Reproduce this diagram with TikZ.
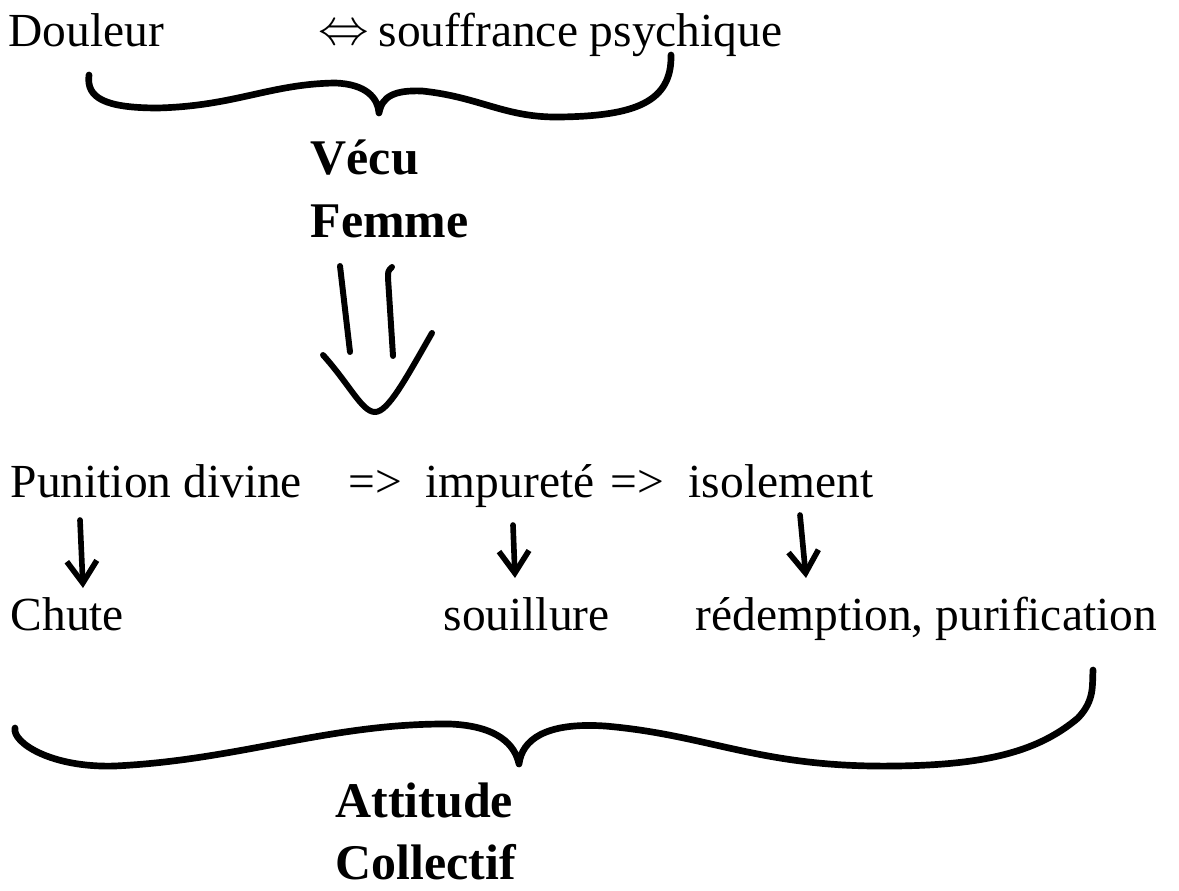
\documentclass[tikz,border=0pt]{standalone}
\usepackage{fontspec}
\setmainfont{Liberation Serif}
\usepackage{tikz}
\usetikzlibrary{positioning, arrows.meta}

\begin{document}
\begin{tikzpicture}[
      txt/.style={anchor=base west, inner sep=0pt, font=\fontsize{13.5}{16}\selectfont},
      lbl/.style={txt, font=\fontsize{14.2}{17}\selectfont\bfseries},
      brc/.style={line width=1.9pt, line cap=round, line join=round},
      arr/.style={line width=1.6pt, line cap=round, -{Straight Barb[length=2.2mm, width=3mm, line width=1.6pt]}}]
    \useasboundingbox (0,0) rectangle (11.79,-8.90);
    % top line
    \node[txt] (douleur) at (0.08,-0.47) {Douleur};
    \node[txt] (equiv) at (3.18,-0.45) {$\Leftrightarrow$};
    \node[txt] (souff) at (3.78,-0.47) {souffrance psychique};
    \draw[brc] (0.89,-0.75) .. controls (0.86,-0.98) and (1.05,-1.08) .. (1.58,-1.08)
        .. controls (2.35,-1.06) and (2.70,-0.84) .. (3.35,-0.83)
        .. controls (3.66,-0.84) and (3.78,-0.98) .. (3.79,-1.13) % cusp
        .. controls (3.82,-0.96) and (3.95,-0.90) .. (4.22,-0.91)
        .. controls (4.80,-0.97) and (5.05,-1.18) .. (5.60,-1.17)
        .. controls (6.35,-1.16) and (6.72,-1.02) .. (6.71,-0.55);
    \node[lbl] (vecu) at (3.10,-1.75) {Vécu};
    \node[lbl] (femme) at (3.10,-2.38) {Femme};
    % big arrow
    \draw[brc, line width=1.7pt] (3.40,-2.66) -- (3.50,-3.52);
    \draw[brc, line width=1.7pt] (3.92,-2.67) .. controls (3.88,-2.71) .. (3.88,-2.78) -- (3.93,-3.56);
    \draw[brc, line width=1.7pt] (3.23,-3.55) .. controls (3.50,-3.85) and (3.62,-4.12) .. (3.75,-4.12)
        .. controls (3.88,-4.12) and (4.05,-3.80) .. (4.32,-3.33);
    % middle line
    \node[txt] (punition) at (0.10,-4.97) {Punition divine};
    \node[txt] (impl1) at (3.48,-4.97) {=>};
    \node[txt] (impur) at (4.25,-4.97) {impureté};
    \node[txt] (impl2) at (6.10,-4.97) {=>};
    \node[txt] (isol) at (6.88,-4.97) {isolement};
    \node[txt] (chute) at (0.10,-6.30) {Chute};
    \node[txt] (souil) at (4.43,-6.30) {souillure};
    \node[txt] (redem) at (6.95,-6.30) {rédemption, purification};
    \coordinate (a1s) at (0.80,-5.20);
    \coordinate (a1e) at (0.83,-5.88);
    \coordinate (a2s) at (5.13,-5.25);
    \coordinate (a2e) at (5.15,-5.78);
    \coordinate (a3s) at (8.00,-5.15);
    \coordinate (a3e) at (8.06,-5.78);
    \draw[arr] (a1s) -- (a1e);
    \draw[arr] (a2s) -- (a2e);
    \draw[arr] (a3s) -- (a3e);
    % bottom brace
    \draw[brc] (0.15,-7.28) .. controls (0.12,-7.42) and (0.50,-7.68) .. (1.15,-7.66)
        .. controls (2.40,-7.60) and (3.30,-7.23) .. (4.50,-7.24)
        .. controls (4.98,-7.26) and (5.15,-7.45) .. (5.19,-7.64) % cusp
        .. controls (5.22,-7.40) and (5.45,-7.22) .. (6.05,-7.26)
        .. controls (7.10,-7.35) and (7.60,-7.68) .. (8.95,-7.66)
        .. controls (9.90,-7.65) and (10.40,-7.50) .. (10.78,-7.18)
        .. controls (10.95,-7.00) and (10.92,-6.85) .. (10.93,-6.70);
    \node[lbl] (attit) at (3.35,-8.17) {Attitude};
    \node[lbl] (collec) at (3.35,-8.79) {Collectif};
\end{tikzpicture}
\end{document}
